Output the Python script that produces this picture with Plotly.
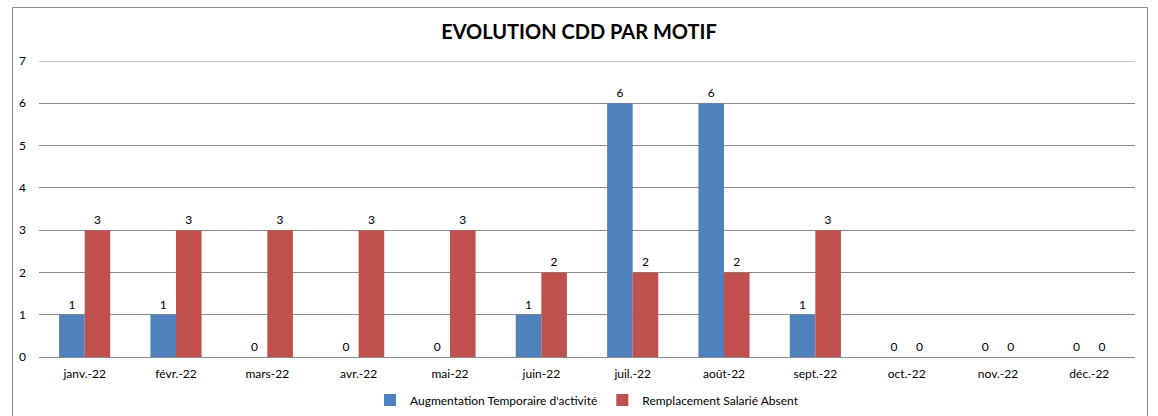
import plotly.graph_objects as go

months = ["janv.-22", "févr.-22", "mars-22", "avr.-22", "mai-22", "juin-22",
          "juil.-22", "août-22", "sept.-22", "oct.-22", "nov.-22", "déc.-22"]
augmentation = [1, 1, 0, 0, 0, 1, 6, 6, 1, 0, 0, 0]
remplacement = [3, 3, 3, 3, 3, 2, 2, 2, 3, 0, 0, 0]
y_ticks = [0, 1, 2, 3, 4, 5, 6, 7]

FONT = "Lato"
W, H = 1158, 416
L, R, T, B = 39, 23, 61, 59
pw, ph = W - L - R, H - T - B
GRID = "#8C8C8C"

fig = go.Figure()
fig.add_trace(go.Bar(name="Augmentation Temporaire d'activité", x=months, y=augmentation,
                     marker=dict(color="#4F81BD", line=dict(width=0)),
                     text=augmentation, textposition="outside",
                     textfont=dict(size=12, color="#000000", family=FONT), cliponaxis=False))
fig.add_trace(go.Bar(name="Remplacement Salarié Absent", x=months, y=remplacement,
                     marker=dict(color="#C0504D", line=dict(width=0)),
                     text=remplacement, textposition="outside",
                     textfont=dict(size=12, color="#000000", family=FONT), cliponaxis=False))

def px_x(x):
    return (x - L) / pw

def px_y(y):
    return (H - B - y) / ph

fig.update_layout(
    width=W, height=H,
    margin=dict(l=L, r=R, t=T, b=B, autoexpand=False),
    paper_bgcolor="white", plot_bgcolor="white",
    barmode="group", bargap=0.44, bargroupgap=0,
    font=dict(family=FONT, size=12, color="#000000"),
    title=dict(text="<b>EVOLUTION CDD PAR MOTIF</b>", x=0.5, xanchor="center",
               y=1 - 32 / H, yanchor="middle",
               font=dict(family=FONT, size=20, color="#000000")),
    xaxis=dict(showgrid=False, showline=False, ticks="", tickfont=dict(size=12),
               ticklabelstandoff=8),
    yaxis=dict(range=[0, 7], tickvals=y_ticks, showgrid=True, gridcolor=GRID,
               gridwidth=1, zeroline=True, zerolinecolor=GRID, zerolinewidth=1,
               ticks="", tickfont=dict(size=12), ticklabelstandoff=12),
    legend=dict(orientation="h", x=0.5, xanchor="center", y=px_y(400), yanchor="middle",
                font=dict(size=12), itemwidth=30, traceorder="normal"),
    shapes=[
        dict(type="rect", xref="paper", yref="paper",
             x0=px_x(12.5), x1=px_x(1147.5), y0=px_y(430), y1=px_y(7.5),
             line=dict(color=GRID, width=1), fillcolor="rgba(0,0,0,0)", layer="below"),
        dict(type="line", xref="paper", yref="y", x0=0, x1=1, y0=max(y_ticks), y1=max(y_ticks),
             line=dict(color=GRID, width=1), layer="below"),
    ],
)

fig.write_html("out.html", config={"displayModeBar": False},
               post_script="document.body.style.margin='0';")
